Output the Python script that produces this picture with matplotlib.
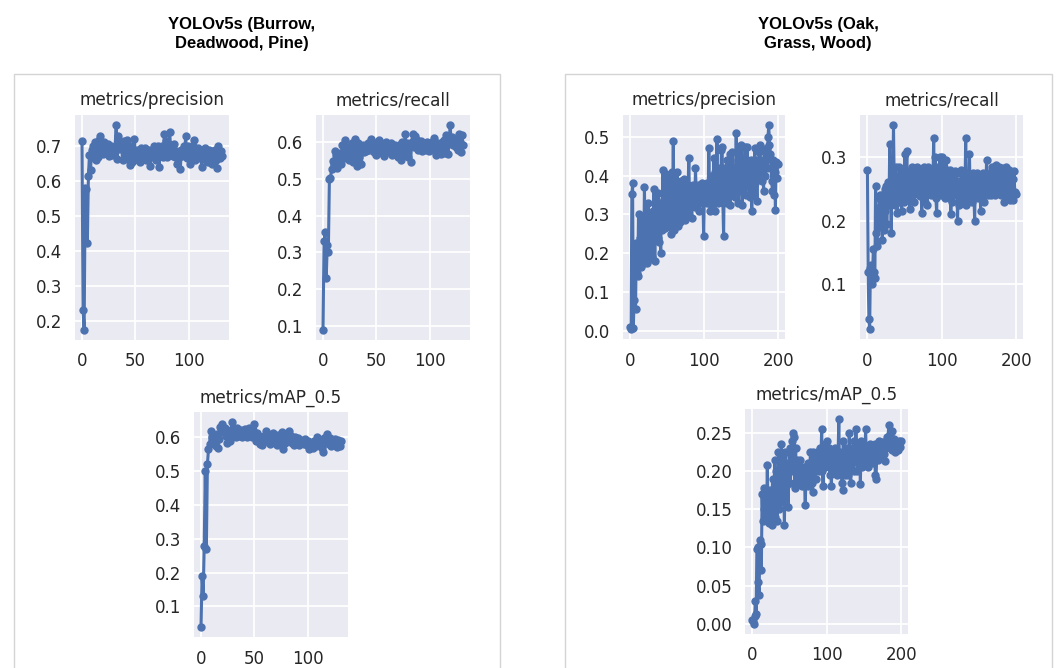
import matplotlib as mpl
mpl.use('Agg')
import matplotlib.pyplot as plt
from matplotlib.patches import Rectangle
from matplotlib.ticker import MultipleLocator, FormatStrFormatter
import numpy as np

# --- YOLOv5s (Burrow, Deadwood, Pine) ---
bdp_precision = [
    0.715, 0.232, 0.175, 0.580, 0.578, 0.422, 0.615, 0.676, 0.632, 0.690,
    0.702, 0.665, 0.712, 0.660, 0.700, 0.668, 0.718, 0.728, 0.688, 0.702,
    0.678, 0.712, 0.694, 0.680, 0.705, 0.672, 0.690, 0.700, 0.676, 0.688,
    0.698, 0.700, 0.760, 0.662, 0.730, 0.692, 0.708, 0.700, 0.660, 0.715,
    0.688, 0.670, 0.718, 0.690, 0.660, 0.645, 0.700, 0.655, 0.672, 0.722,
    0.668, 0.690, 0.660, 0.678, 0.655, 0.696, 0.665, 0.690, 0.670, 0.695,
    0.660, 0.685, 0.672, 0.690, 0.642, 0.685, 0.670, 0.700, 0.678, 0.660,
    0.688, 0.700, 0.640, 0.690, 0.672, 0.700, 0.668, 0.735, 0.690, 0.715,
    0.668, 0.705, 0.742, 0.690, 0.700, 0.672, 0.705, 0.668, 0.685, 0.650,
    0.680, 0.668, 0.635, 0.690, 0.672, 0.700, 0.680, 0.728, 0.665, 0.700,
    0.680, 0.648, 0.690, 0.672, 0.700, 0.718, 0.660, 0.685, 0.672, 0.695,
    0.665, 0.680, 0.640, 0.688, 0.670, 0.695, 0.660, 0.680, 0.655, 0.690,
    0.668, 0.685, 0.650, 0.678, 0.690, 0.660, 0.638, 0.700, 0.670, 0.665,
    0.685, 0.672]
bdp_recall = [
    0.090, 0.330, 0.355, 0.230, 0.320, 0.302, 0.500, 0.502, 0.525, 0.548,
    0.540, 0.575, 0.565, 0.530, 0.560, 0.548, 0.570, 0.540, 0.592, 0.560,
    0.555, 0.605, 0.570, 0.585, 0.550, 0.572, 0.560, 0.598, 0.545, 0.580,
    0.608, 0.565, 0.535, 0.598, 0.560, 0.575, 0.540, 0.590, 0.572, 0.585,
    0.575, 0.590, 0.598, 0.578, 0.585, 0.608, 0.580, 0.595, 0.572, 0.598,
    0.565, 0.588, 0.605, 0.580, 0.598, 0.570, 0.590, 0.562, 0.585, 0.600,
    0.578, 0.595, 0.572, 0.588, 0.598, 0.565, 0.585, 0.592, 0.570, 0.588,
    0.560, 0.590, 0.578, 0.552, 0.600, 0.568, 0.585, 0.620, 0.575, 0.598,
    0.560, 0.590, 0.545, 0.600, 0.620, 0.585, 0.615, 0.590, 0.605, 0.578,
    0.598, 0.585, 0.602, 0.575, 0.592, 0.585, 0.578, 0.600, 0.588, 0.575,
    0.595, 0.585, 0.600, 0.578, 0.610, 0.590, 0.565, 0.598, 0.580, 0.590,
    0.568, 0.600, 0.585, 0.605, 0.570, 0.618, 0.590, 0.568, 0.600, 0.645,
    0.598, 0.612, 0.590, 0.605, 0.585, 0.595, 0.578, 0.620, 0.600, 0.572,
    0.618, 0.592]
bdp_map50 = [
    0.040, 0.190, 0.132, 0.278, 0.500, 0.270, 0.520, 0.565, 0.582, 0.620,
    0.600, 0.608, 0.585, 0.598, 0.575, 0.610, 0.568, 0.595, 0.632, 0.615,
    0.640, 0.618, 0.628, 0.605, 0.585, 0.600, 0.615, 0.590, 0.622, 0.645,
    0.625, 0.610, 0.618, 0.600, 0.628, 0.612, 0.605, 0.622, 0.600, 0.615,
    0.608, 0.625, 0.612, 0.600, 0.618, 0.628, 0.605, 0.615, 0.600, 0.622,
    0.640, 0.590, 0.612, 0.598, 0.605, 0.580, 0.600, 0.578, 0.595, 0.605,
    0.590, 0.618, 0.598, 0.588, 0.605, 0.580, 0.598, 0.612, 0.590, 0.585,
    0.600, 0.578, 0.608, 0.592, 0.582, 0.600, 0.615, 0.565, 0.598, 0.585,
    0.610, 0.590, 0.618, 0.598, 0.605, 0.585, 0.595, 0.578, 0.600, 0.590,
    0.582, 0.598, 0.578, 0.590, 0.585, 0.592, 0.580, 0.595, 0.585, 0.578,
    0.590, 0.565, 0.585, 0.572, 0.580, 0.568, 0.590, 0.582, 0.575, 0.600,
    0.588, 0.575, 0.592, 0.568, 0.556, 0.598, 0.585, 0.600, 0.610, 0.590,
    0.582, 0.598, 0.575, 0.590, 0.585, 0.595, 0.582, 0.572, 0.592, 0.585,
    0.575, 0.590]

# --- YOLOv5s (Oak, Grass, Wood) ---
ogw_precision = [
    0.010, 0.005, 0.352, 0.380, 0.008, 0.080, 0.210, 0.055, 0.225, 0.150,
    0.140, 0.300, 0.180, 0.240, 0.165, 0.290, 0.200, 0.230, 0.175, 0.370,
    0.225, 0.180, 0.280, 0.175, 0.330, 0.210, 0.300, 0.185, 0.265, 0.190,
    0.310, 0.250, 0.365, 0.180, 0.340, 0.270, 0.320, 0.240, 0.355, 0.230,
    0.300, 0.200, 0.330, 0.260, 0.415, 0.280, 0.350, 0.265, 0.405, 0.320,
    0.280, 0.390, 0.300, 0.345, 0.270, 0.250, 0.410, 0.300, 0.490, 0.260,
    0.380, 0.330, 0.295, 0.410, 0.270, 0.360, 0.330, 0.280, 0.385, 0.310,
    0.350, 0.295, 0.390, 0.320, 0.285, 0.360, 0.340, 0.300, 0.375, 0.445,
    0.320, 0.360, 0.340, 0.290, 0.375, 0.330, 0.360, 0.320, 0.420, 0.350,
    0.330, 0.375, 0.340, 0.310, 0.370, 0.355, 0.330, 0.380, 0.350, 0.245,
    0.350, 0.340, 0.365, 0.330, 0.380, 0.345, 0.470, 0.360, 0.310, 0.400,
    0.320, 0.395, 0.350, 0.445, 0.310, 0.410, 0.340, 0.495, 0.330, 0.420,
    0.360, 0.390, 0.340, 0.465, 0.475, 0.330, 0.245, 0.420, 0.380, 0.350,
    0.440, 0.330, 0.390, 0.360, 0.455, 0.325, 0.410, 0.380, 0.460, 0.350,
    0.420, 0.395, 0.345, 0.510, 0.370, 0.440, 0.330, 0.470, 0.400, 0.360,
    0.480, 0.325, 0.440, 0.400, 0.370, 0.475, 0.350, 0.440, 0.475, 0.380,
    0.420, 0.345, 0.400, 0.440, 0.310, 0.395, 0.430, 0.350, 0.470, 0.380,
    0.440, 0.335, 0.420, 0.395, 0.460, 0.480, 0.400, 0.440, 0.385, 0.420,
    0.360, 0.465, 0.400, 0.440, 0.470, 0.420, 0.500, 0.530, 0.480, 0.455,
    0.420, 0.385, 0.360, 0.440, 0.350, 0.410, 0.312, 0.435, 0.395, 0.430]
ogw_recall = [
    0.280, 0.120, 0.045, 0.030, 0.125, 0.130, 0.100, 0.120, 0.155, 0.120,
    0.110, 0.255, 0.180, 0.160, 0.220, 0.190, 0.235, 0.240, 0.200, 0.240,
    0.170, 0.230, 0.185, 0.250, 0.215, 0.255, 0.195, 0.240, 0.260, 0.225,
    0.320, 0.250, 0.180, 0.280, 0.240, 0.350, 0.260, 0.225, 0.285, 0.250,
    0.212, 0.270, 0.245, 0.285, 0.230, 0.265, 0.215, 0.275, 0.250, 0.230,
    0.305, 0.240, 0.275, 0.310, 0.235, 0.268, 0.255, 0.218, 0.280, 0.250,
    0.285, 0.240, 0.270, 0.230, 0.278, 0.260, 0.245, 0.285, 0.255, 0.270,
    0.238, 0.280, 0.255, 0.212, 0.270, 0.245, 0.285, 0.230, 0.260, 0.275,
    0.225, 0.265, 0.285, 0.250, 0.270, 0.240, 0.280, 0.255, 0.262, 0.330,
    0.245, 0.300, 0.235, 0.212, 0.270, 0.285, 0.250, 0.300, 0.260, 0.240,
    0.300, 0.265, 0.245, 0.285, 0.235, 0.270, 0.295, 0.250, 0.265, 0.235,
    0.245, 0.280, 0.210, 0.265, 0.230, 0.275, 0.240, 0.278, 0.255, 0.250,
    0.275, 0.200, 0.245, 0.225, 0.262, 0.240, 0.280, 0.255, 0.265, 0.230,
    0.270, 0.245, 0.330, 0.225, 0.275, 0.250, 0.235, 0.305, 0.245, 0.270,
    0.260, 0.230, 0.275, 0.245, 0.200, 0.265, 0.250, 0.275, 0.235, 0.260,
    0.245, 0.270, 0.215, 0.262, 0.240, 0.275, 0.250, 0.230, 0.268, 0.245,
    0.295, 0.260, 0.240, 0.275, 0.250, 0.265, 0.240, 0.285, 0.255, 0.245,
    0.275, 0.240, 0.265, 0.288, 0.250, 0.270, 0.245, 0.285, 0.255, 0.275,
    0.240, 0.282, 0.260, 0.230, 0.270, 0.250, 0.285, 0.235, 0.275, 0.245,
    0.280, 0.250, 0.232, 0.275, 0.240, 0.265, 0.232, 0.278, 0.245, 0.242]
ogw_map50 = [
    0.005, 0.003, 0.000, 0.010, 0.030, 0.013, 0.098, 0.100, 0.055, 0.038,
    0.110, 0.105, 0.070, 0.170, 0.135, 0.150, 0.178, 0.140, 0.165, 0.135,
    0.208, 0.150, 0.132, 0.175, 0.140, 0.165, 0.130, 0.190, 0.135, 0.170,
    0.215, 0.140, 0.200, 0.135, 0.185, 0.225, 0.150, 0.205, 0.160, 0.235,
    0.190, 0.220, 0.175, 0.130, 0.225, 0.180, 0.205, 0.195, 0.153, 0.210,
    0.230, 0.185, 0.215, 0.240, 0.250, 0.200, 0.245, 0.178, 0.230, 0.200,
    0.215, 0.190, 0.205, 0.185, 0.215, 0.195, 0.200, 0.180, 0.190, 0.205,
    0.185, 0.155, 0.200, 0.190, 0.210, 0.180, 0.195, 0.205, 0.225, 0.200,
    0.185, 0.172, 0.225, 0.200, 0.210, 0.190, 0.215, 0.225, 0.205, 0.220,
    0.200, 0.230, 0.215, 0.255, 0.200, 0.180, 0.220, 0.205, 0.235, 0.215,
    0.240, 0.210, 0.225, 0.230, 0.195, 0.220, 0.180, 0.215, 0.200, 0.225,
    0.210, 0.230, 0.205, 0.220, 0.195, 0.215, 0.268, 0.200, 0.225, 0.210,
    0.185, 0.175, 0.240, 0.205, 0.220, 0.195, 0.230, 0.210, 0.225, 0.195,
    0.250, 0.215, 0.185, 0.230, 0.210, 0.225, 0.200, 0.240, 0.215, 0.255,
    0.220, 0.200, 0.235, 0.210, 0.225, 0.183, 0.240, 0.205, 0.230, 0.215,
    0.225, 0.210, 0.255, 0.220, 0.230, 0.205, 0.225, 0.215, 0.235, 0.220,
    0.215, 0.228, 0.210, 0.225, 0.235, 0.195, 0.190, 0.220, 0.230, 0.215,
    0.240, 0.225, 0.232, 0.220, 0.238, 0.228, 0.235, 0.222, 0.213, 0.240,
    0.230, 0.245, 0.238, 0.260, 0.232, 0.248, 0.240, 0.228, 0.252, 0.235,
    0.242, 0.228, 0.225, 0.238, 0.230, 0.235, 0.228, 0.240, 0.232, 0.240]

titles = ['YOLOv5s (Burrow,\nDeadwood, Pine)', 'YOLOv5s (Oak,\nGrass, Wood)']

W, H = 1057, 668
BLUE = '#4C72B0'
TXT = '#262626'

def rect(x0, y0, x1, y1):
    return [x0 / W, 1 - y1 / H, (x1 - x0) / W, (y1 - y0) / H]

plt.rcParams['font.family'] = 'DejaVu Sans'
fig = plt.figure(figsize=(W / 100, H / 100), dpi=100)

# panel frames
for bx0, bx1 in [(14, 500), (565, 1052)]:
    fig.add_artist(Rectangle((bx0 / W, -0.1), (bx1 - bx0) / W, 1.1 - 74 / H,
                             transform=fig.transFigure, fill=False,
                             edgecolor='#d4d4d4', linewidth=1.0))

# panel headings
for cx, t in zip([242, 818], titles):
    fig.text(cx / W, 1 - 34 / H, t, ha='center', va='center',
             fontsize=12, fontweight='bold', family='Liberation Sans',
             color='black', linespacing=1.3)

# (axes rect, values, title, x ticks, y step, y format)
panels = [
    (rect(75, 115, 229, 340), bdp_precision, 'metrics/precision', [0, 50, 100], 0.1, '%.1f'),
    (rect(316, 115, 470, 340), bdp_recall, 'metrics/recall', [0, 50, 100], 0.1, '%.1f'),
    (rect(194, 412, 348, 637), bdp_map50, 'metrics/mAP_0.5', [0, 50, 100], 0.1, '%.1f'),
    (rect(623, 115, 785, 339), ogw_precision, 'metrics/precision', [0, 100, 200], 0.1, '%.1f'),
    (rect(860, 115, 1023, 339), ogw_recall, 'metrics/recall', [0, 100, 200], 0.1, '%.1f'),
    (rect(745, 409, 908, 634), ogw_map50, 'metrics/mAP_0.5', [0, 100, 200], 0.05, '%.2f'),
]

for r, vals, name, xt, ystep, yfmt in panels:
    ax = fig.add_axes(r)
    ax.set_facecolor('#EAEAF2')
    ax.plot(np.arange(len(vals)), vals, '-o', color=BLUE, lw=2.2, ms=5)
    ax.set_xticks(xt)
    ax.yaxis.set_major_locator(MultipleLocator(ystep))
    ax.yaxis.set_major_formatter(FormatStrFormatter(yfmt))
    ax.grid(True, color='white', lw=1.3)
    ax.set_axisbelow(True)
    for s in ax.spines.values():
        s.set_visible(False)
    ax.tick_params(length=0, pad=9, labelsize=12, labelcolor=TXT)
    ax.set_title(name, fontsize=12.2, color=TXT, pad=7)

fig.savefig('out.png', dpi=100)
